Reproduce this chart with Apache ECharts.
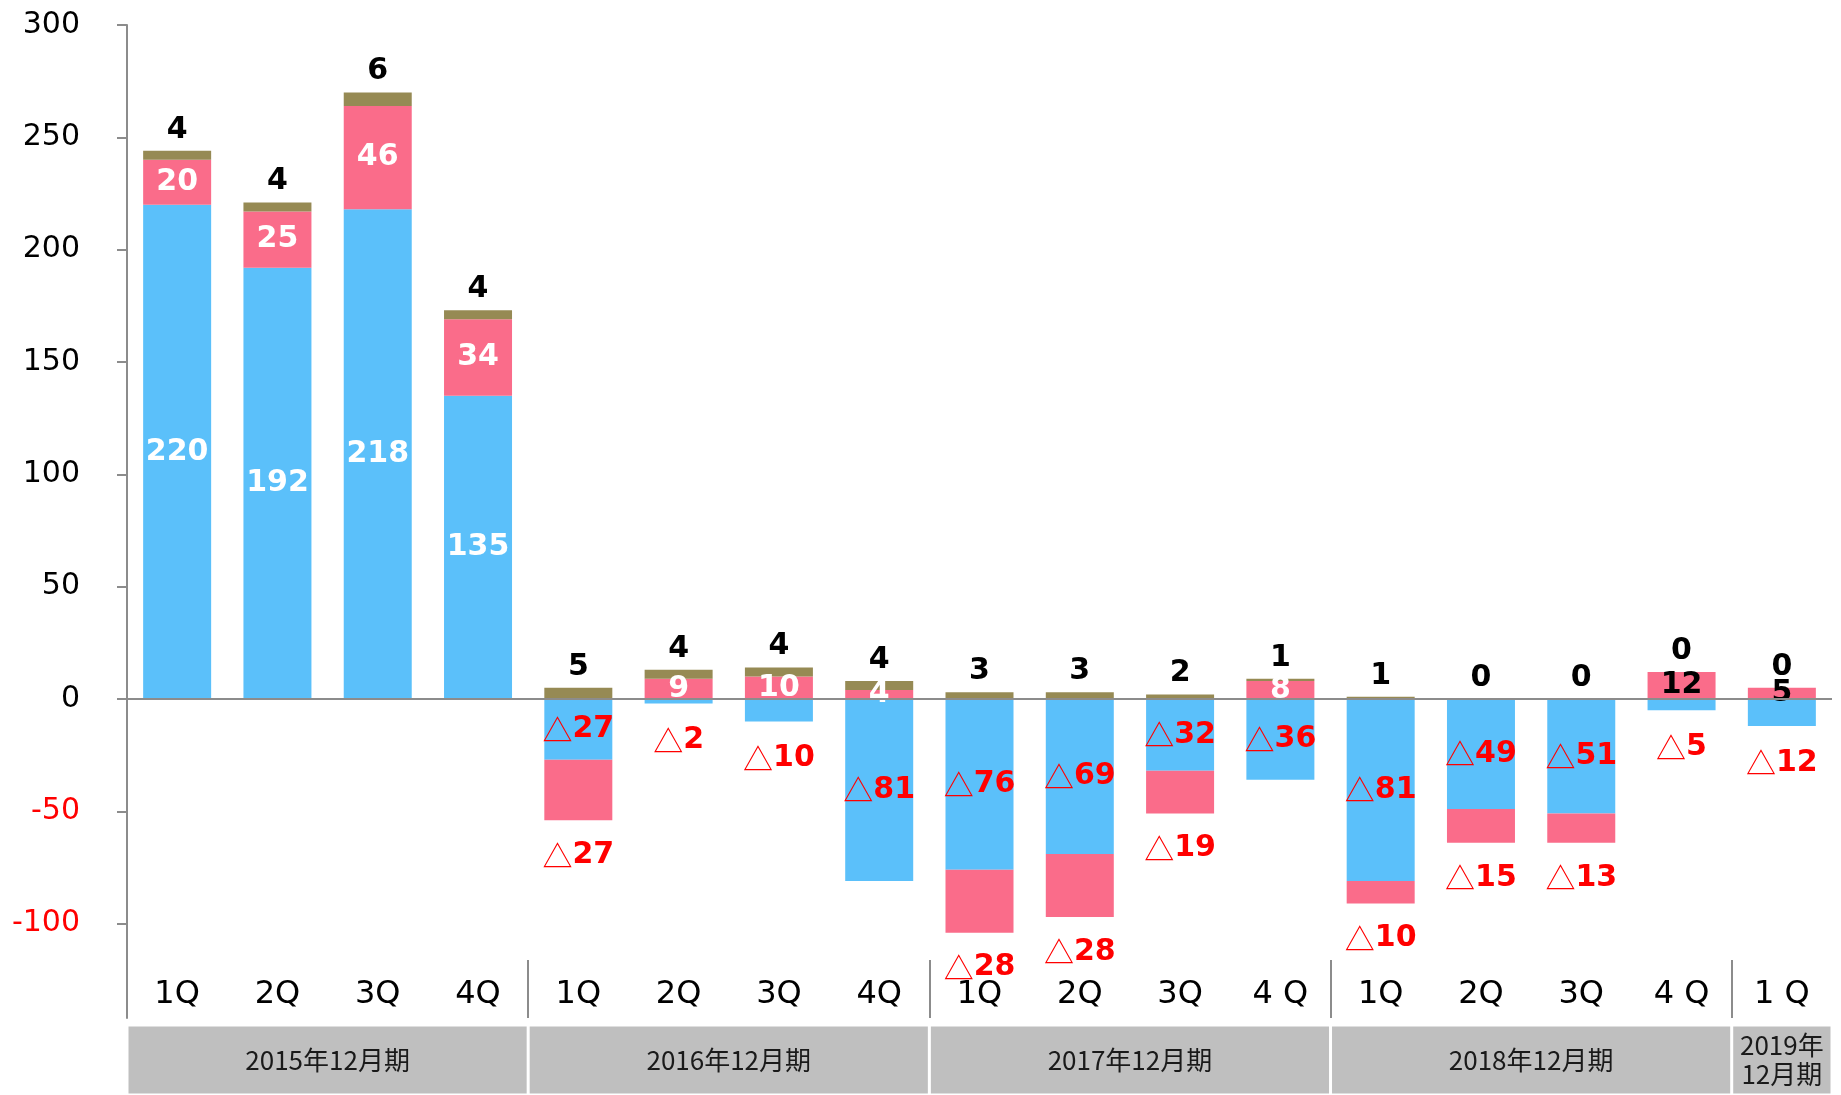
<!DOCTYPE html>
<html>
<head>
<meta charset="utf-8">
<script src="https://cdn.jsdelivr.net/npm/echarts@6/dist/echarts.min.js"></script>
<style>
html,body{margin:0;padding:0;background:#ffffff;}
#chart{width:1841px;height:1095px;}
</style>
</head>
<body>
<div id="chart"></div>
<script>
// ---- data ----
const categories = ['1Q','2Q','3Q','4Q','1Q','2Q','3Q','4Q','1Q','2Q','3Q','4 Q','1Q','2Q','3Q','4 Q','1 Q'];
const blueValues  = [220,192,218,135,-27,-2,-10,-81,-76,-69,-32,-36,-81,-49,-51,-5,-12];
const pinkValues  = [20,25,46,34,-27,9,10,4,-28,-28,-19,8,-10,-15,-13,12,5];
const oliveValues = [4,4,6,4,5,4,4,4,3,3,2,1,1,0,0,0,0];
const fiscalYears = ['2015年12月期','2016年12月期','2017年12月期','2018年12月期','2019年\n12月期'];
const quartersPerYear = [4,4,4,4,1];
const yTickValues = [-100,-50,0,50,100,150,200,250,300];

// ---- styling ----
const BLUE = '#5BC0FA', PINK = '#FA6C8A', OLIVE = '#968A54', RED = '#FF0000', AXIS = '#8C8C8C';
const NUM_FONT = 'DejaVu Sans';
const LABEL_SIZE = 30;
const richRed = {
  t: {fontFamily: 'Noto Sans CJK JP', fontSize: LABEL_SIZE, fontWeight: 'normal', color: RED},
  n: {fontFamily: NUM_FONT, fontSize: LABEL_SIZE, fontWeight: 'bold', color: RED}
};
function fmt(p) {
  const v = p.value;
  return v >= 0 ? String(v) : '{t|△}{n|' + Math.abs(v) + '}';
}
const baseLabel = {
  show: true, formatter: fmt, rich: richRed,
  fontFamily: NUM_FONT, fontSize: LABEL_SIZE, fontWeight: 'bold',
  textBorderWidth: 0
};

const blueData = blueValues.map(v => ({
  value: v,
  label: v >= 0 ? {position: 'inside', color: '#ffffff'}
       : {position: Math.abs(v) >= 25 ? 'inside' : 'bottom', distance: 22, color: RED}
}));
const pinkData = pinkValues.map((v, i) => ({
  value: v,
  label: v >= 0 ? {position: 'inside', color: (i >= 15 ? '#000000' : '#ffffff')}
       : {position: 'bottom', distance: 20, color: RED}
}));

// year-group boundaries for the divider ticks
const boundaries = [];
quartersPerYear.reduce((acc, n, i) => {
  const next = acc + n;
  if (i < quartersPerYear.length - 1) boundaries.push(next);
  return next;
}, 0);

const bandSeries = fiscalYears.map((name, i) => ({
  type: 'bar', xAxisIndex: 2, yAxisIndex: 1, stack: 'years',
  data: [quartersPerYear[i]], barWidth: '100%', silent: true,
  itemStyle: {color: '#BFBFBF', borderColor: '#ffffff', borderWidth: 1.5},
  label: {show: true, position: 'inside', formatter: name, fontSize: 26,
          fontFamily: 'Noto Sans CJK JP', color: '#1a1a1a', lineHeight: 29, textBorderWidth: 0}
}));

const chart = echarts.init(document.getElementById('chart'), null, {renderer: 'canvas'});
chart.setOption({
  animation: false,
  backgroundColor: '#ffffff',
  grid: [
    {left: 127, right: 9, top: 25, bottom: 77, containLabel: false, outerBoundsMode: 'none'},
    {left: 127, right: 9, top: 1025, bottom: 0, containLabel: false, outerBoundsMode: 'none'}
  ],
  xAxis: [
    {
      type: 'category', gridIndex: 0, data: categories, position: 'bottom',
      axisLine: {show: false, onZero: false}, axisTick: {show: false},
      axisLabel: {inside: true, margin: 7, interval: 0, fontSize: 32, color: '#000000', fontFamily: NUM_FONT},
      splitLine: {show: false}
    },
    {
      type: 'value', gridIndex: 0, min: 0, max: categories.length, position: 'bottom',
      axisLine: {show: false, onZero: false},
      axisLabel: {show: false},
      splitLine: {show: false},
      axisTick: {show: true, inside: true, length: 58, customValues: boundaries,
                 lineStyle: {color: AXIS, width: 2}}
    },
    {type: 'value', gridIndex: 1, min: 0, max: categories.length, show: false}
  ],
  yAxis: [
    {
      type: 'value', gridIndex: 0, min: -142, max: 300,
      axisLine: {show: true, lineStyle: {color: AXIS, width: 2}},
      axisTick: {show: true, length: 10, customValues: yTickValues, lineStyle: {color: AXIS, width: 2}},
      axisLabel: {customValues: yTickValues, margin: 47, fontSize: 30, fontFamily: NUM_FONT,
                  color: v => (v < 0 ? RED : '#000000')},
      splitLine: {show: false}
    },
    {type: 'category', gridIndex: 1, data: ['band'], show: false}
  ],
  series: [
    {
      name: 'blue', type: 'bar', stack: 'total', xAxisIndex: 0, yAxisIndex: 0,
      barWidth: 68, data: blueData, itemStyle: {color: BLUE},
      label: baseLabel,
      markLine: {
        silent: true, symbol: 'none', label: {show: false},
        lineStyle: {color: AXIS, width: 2, type: 'solid'},
        data: [{yAxis: 0}]
      },
      z: 2
    },
    {
      name: 'pink', type: 'bar', stack: 'total', xAxisIndex: 0, yAxisIndex: 0,
      barWidth: 68, data: pinkData, itemStyle: {color: PINK},
      label: baseLabel, z: 2
    },
    {
      name: 'olive', type: 'bar', stack: 'total', stackStrategy: 'positive',
      xAxisIndex: 0, yAxisIndex: 0, barWidth: 68, data: oliveValues,
      itemStyle: {color: OLIVE},
      label: Object.assign({}, baseLabel, {position: 'top', distance: 6, color: '#000000'}),
      z: 2
    }
  ].concat(bandSeries)
});
</script>
</body>
</html>
